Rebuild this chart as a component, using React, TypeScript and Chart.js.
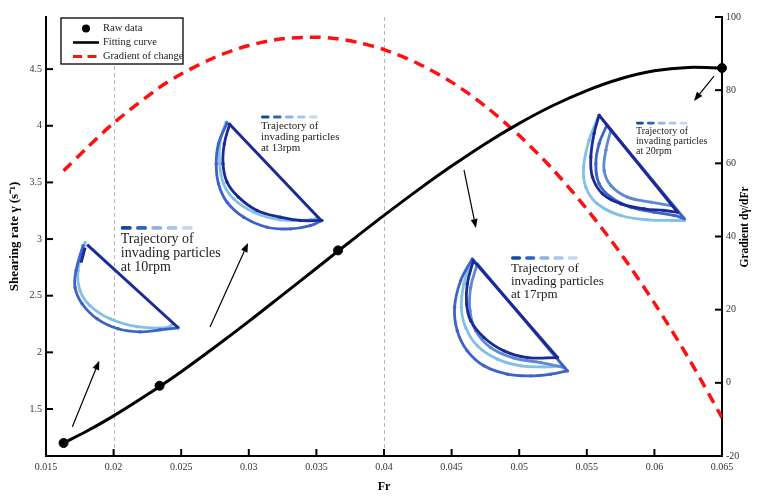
import React, { useEffect, useRef } from 'react';
import { Chart, registerables } from 'chart.js';
Chart.register(...registerables);

const FONT = '"Liberation Serif", "Times New Roman", serif';

// ---- axis ticks ----
const xTicks = [0.015, 0.02, 0.025, 0.03, 0.035, 0.04, 0.045, 0.05, 0.055, 0.06, 0.065];
const xTickLabels = ['0.015', '0.02', '0.025', '0.03', '0.035', '0.04', '0.045', '0.05', '0.055', '0.06', '0.065'];
const leftTicks = [1.5, 2, 2.5, 3, 3.5, 4, 4.5];
const leftTickLabels = ['1.5', '2', '2.5', '3', '3.5', '4', '4.5'];
const rightTicks = [-20, 0, 20, 40, 60, 80, 100];
const rightTickLabels = ['-20', '0', '20', '40', '60', '80', '100'];
const refLinesFr = [0.02, 0.04];

// ---- raw data ----
const rawFr = [0.0163, 0.0234, 0.0366, 0.065];
const rawGamma = [1.2, 1.705, 2.9, 4.51];

// ---- fitting curve & gradient ----
const curveFr = [0.0163, 0.018, 0.02, 0.0233, 0.025, 0.0275, 0.03, 0.0325, 0.035, 0.0365, 0.038, 0.04, 0.0425, 0.045, 0.0475, 0.05, 0.0525, 0.055, 0.0575, 0.06, 0.0625, 0.065];
const fitGamma = [1.2, 1.303, 1.439, 1.69, 1.829, 2.047, 2.273, 2.507, 2.742, 2.884, 3.024, 3.209, 3.432, 3.644, 3.842, 4.021, 4.179, 4.311, 4.415, 4.485, 4.515, 4.51];
const gradValue = [58.0, 64.1, 71.0, 80.5, 84.4, 89.0, 92.2, 94.05, 94.47, 94.05, 93.1, 91.1, 87.3, 82.2, 75.6, 67.6, 58.3, 47.5, 35.4, 21.8, 6.9, -9.5];

// ---- particle trajectories (Fr, shearing rate) ----
const traj10Chord = [[0.01804, 2.951], [0.02478, 2.217]];
const traj10Tick = [[0.01789, 2.925], [0.01759, 2.792]];
const traj10Outer = [[0.01774, 2.942], [0.01722, 2.721], [0.01715, 2.571], [0.01767, 2.429], [0.01878, 2.296], [0.02033, 2.208], [0.02196, 2.181], [0.02344, 2.199], [0.02478, 2.217]];
const traj10Inner = [[0.01789, 2.969], [0.01737, 2.721], [0.01752, 2.544], [0.01826, 2.412], [0.01974, 2.296], [0.02174, 2.226], [0.02396, 2.217], [0.02441, 2.252]];

const traj13Chord = [[0.02858, 4.013], [0.03535, 3.164]];
const traj13Outer = [[0.02839, 4.025], [0.02776, 3.842], [0.02759, 3.665], [0.02776, 3.488], [0.02839, 3.326], [0.02962, 3.193], [0.03135, 3.104], [0.03307, 3.09], [0.03456, 3.119], [0.03542, 3.164]];
const traj13Mid = [[0.02833, 4.034], [0.02789, 3.872], [0.02784, 3.665], [0.02813, 3.488], [0.02887, 3.356], [0.03036, 3.237], [0.03233, 3.17], [0.03456, 3.17], [0.03517, 3.188]];
const traj13Inner = [[0.02858, 4.013], [0.02819, 3.842], [0.02809, 3.665], [0.02839, 3.503], [0.02924, 3.37], [0.03061, 3.252], [0.03233, 3.193], [0.03381, 3.164], [0.03535, 3.164]];

const traj17Chord = [[0.04661, 2.81], [0.05283, 1.954]];
const traj17ChordOuter = [[0.0469, 2.781], [0.05357, 1.836]];
const traj17Outer = [[0.04653, 2.825], [0.04567, 2.633], [0.04522, 2.396], [0.04542, 2.19], [0.04616, 2.013], [0.04739, 1.881], [0.04913, 1.807], [0.05085, 1.792], [0.05233, 1.807], [0.05357, 1.836]];
const traj17Light = [[0.04641, 2.795], [0.04591, 2.604], [0.04572, 2.396], [0.04604, 2.219], [0.0469, 2.058], [0.04839, 1.94], [0.05011, 1.881], [0.05184, 1.872], [0.0532, 1.881]];
const traj17Mid = [[0.0469, 2.781], [0.04641, 2.573], [0.04636, 2.367], [0.04678, 2.19], [0.04789, 2.042], [0.04962, 1.949], [0.05159, 1.91], [0.05332, 1.865]];
const traj17Inner = [[0.04661, 2.81], [0.04616, 2.604], [0.04611, 2.427], [0.04641, 2.279], [0.04739, 2.131], [0.04887, 2.013], [0.05061, 1.954], [0.05283, 1.954]];

const traj20Chord = [[0.05591, 4.093], [0.06172, 3.237]];
const traj20ChordMid = [[0.05648, 4.004], [0.06221, 3.179]];
const traj20Light = [[0.05579, 4.064], [0.05517, 3.872], [0.05476, 3.635], [0.05493, 3.458], [0.05579, 3.311], [0.05752, 3.208], [0.0595, 3.17], [0.06122, 3.164], [0.06221, 3.164]];
const traj20Mid = [[0.05648, 4.004], [0.05591, 3.842], [0.05567, 3.665], [0.05591, 3.488], [0.05678, 3.37], [0.05826, 3.281], [0.05999, 3.237], [0.06147, 3.208], [0.06221, 3.179]];
const traj20Dark = [[0.05591, 4.093], [0.05554, 3.931], [0.0553, 3.724], [0.05542, 3.547], [0.05616, 3.4], [0.05752, 3.311], [0.05924, 3.267], [0.06073, 3.252], [0.06172, 3.237]];
const traj20Inner = [[0.05678, 3.96], [0.05641, 3.783], [0.05628, 3.606], [0.05678, 3.473], [0.05801, 3.37], [0.05974, 3.326], [0.06122, 3.296]];

// ---- annotations ----
const arrowTails = [[0.01695, 1.344], [0.02713, 2.224], [0.04592, 3.609], [0.06441, 4.439]];
const arrowHeads = [[0.01894, 1.926], [0.02994, 2.965], [0.0468, 3.097], [0.06293, 4.219]];
const insetRpm = ['10rpm', '13rpm', '17rpm', '20rpm'];
const insetFr = [0.02053, 0.0309, 0.04939, 0.05864];
const insetGamma = [3.098, 4.077, 2.833, 4.024];
const insetFontSize = [14, 11, 13, 10];

const DARK = '#1b2a98';
const MID = '#3f62c8';
const MID2 = '#5f88d4';
const LIGHT = '#82c0e4';
const dashColors = ['#174a9c', '#2f66bb', '#8fb3e3', '#a8c5eb', '#c4d8f1'];

const trajectoryList = [
  { data: traj10Chord, color: DARK, curved: false },
  { data: traj10Tick, color: DARK, curved: false },
  { data: traj13Chord, color: DARK, curved: false },
  { data: traj13Inner, color: DARK, curved: true },
  { data: traj17Chord, color: DARK, curved: false },
  { data: traj17Inner, color: DARK, curved: true },
  { data: traj20Chord, color: DARK, curved: false },
  { data: traj20Dark, color: DARK, curved: true },
  { data: traj10Outer, color: MID, curved: true },
  { data: traj13Outer, color: MID, curved: true },
  { data: traj17ChordOuter, color: MID, curved: false },
  { data: traj17Outer, color: MID, curved: true },
  { data: traj17Mid, color: MID2, curved: true },
  { data: traj20ChordMid, color: MID, curved: false },
  { data: traj20Mid, color: MID, curved: true },
  { data: traj20Inner, color: MID2, curved: true },
  { data: traj10Inner, color: LIGHT, curved: true },
  { data: traj13Mid, color: LIGHT, curved: true },
  { data: traj17Light, color: LIGHT, curved: true },
  { data: traj20Light, color: LIGHT, curved: true },
];

const toXY = (pairs: number[][]) => pairs.map(([x, y]) => ({ x, y }));
const labelFor = (vals: number[], labels: string[], v: number) => {
  const i = vals.findIndex((t) => Math.abs(t - v) < 1e-9);
  return i >= 0 ? labels[i] : '';
};

const overlayPlugin = {
  id: 'overlay',
  beforeDatasetsDraw(chart: any) {
    const { ctx, chartArea, scales } = chart;
    ctx.save();
    ctx.strokeStyle = '#b4b4b4';
    ctx.lineWidth = 1;
    ctx.setLineDash([4, 3]);
    for (const v of refLinesFr) {
      const x = Math.round(scales.x.getPixelForValue(v)) + 0.5;
      ctx.beginPath();
      ctx.moveTo(x, chartArea.top);
      ctx.lineTo(x, chartArea.bottom);
      ctx.stroke();
    }
    ctx.restore();
  },
  afterDatasetsDraw(chart: any) {
    const { ctx, scales } = chart;
    const sx = (v: number) => scales.x.getPixelForValue(v);
    const sy = (v: number) => scales.y.getPixelForValue(v);
    ctx.save();
    // arrows
    ctx.strokeStyle = '#000';
    ctx.fillStyle = '#000';
    ctx.lineWidth = 1.2;
    arrowTails.forEach((t, i) => {
      const x1 = sx(t[0]), y1 = sy(t[1]);
      const x2 = sx(arrowHeads[i][0]), y2 = sy(arrowHeads[i][1]);
      const a = Math.atan2(y2 - y1, x2 - x1);
      const hl = 9, hw = 3.5;
      const bx = x2 - hl * Math.cos(a), by = y2 - hl * Math.sin(a);
      ctx.beginPath();
      ctx.moveTo(x1, y1);
      ctx.lineTo(bx, by);
      ctx.stroke();
      ctx.beginPath();
      ctx.moveTo(x2, y2);
      ctx.lineTo(bx + hw * Math.sin(a), by - hw * Math.cos(a));
      ctx.lineTo(bx - hw * Math.sin(a), by + hw * Math.cos(a));
      ctx.closePath();
      ctx.fill();
    });
    // inset labels
    insetRpm.forEach((rpm, i) => {
      const size = insetFontSize[i];
      const x0 = sx(insetFr[i]);
      const y0 = sy(insetGamma[i]);
      const L = size * 5.45;
      const seg = L / 5;
      ctx.lineCap = 'round';
      ctx.lineWidth = size * 0.27;
      dashColors.forEach((c, k) => {
        ctx.strokeStyle = c;
        ctx.beginPath();
        ctx.moveTo(x0 + k * seg + ctx.lineWidth / 2, y0);
        ctx.lineTo(x0 + k * seg + seg * 0.72 - ctx.lineWidth / 2, y0);
        ctx.stroke();
      });
      ctx.fillStyle = '#222';
      ctx.font = `${size}px ${FONT}`;
      ctx.textBaseline = 'middle';
      ctx.textAlign = 'left';
      ['Trajectory of', 'invading particles', `at ${rpm}`].forEach((line, j) => {
        ctx.fillText(line, x0, y0 + size * 0.8 + j * size * 1.0);
      });
    });
    ctx.restore();
  },
  afterDraw(chart: any) {
    const { ctx, chartArea, scales } = chart;
    ctx.save();
    // inward ticks
    ctx.strokeStyle = '#000';
    ctx.lineWidth = 2;
    ctx.lineCap = 'butt';
    for (const v of xTicks) {
      const x = scales.x.getPixelForValue(v);
      ctx.beginPath();
      ctx.moveTo(x, chartArea.bottom);
      ctx.lineTo(x, chartArea.bottom - 7);
      ctx.stroke();
    }
    for (const v of leftTicks) {
      const y = scales.y.getPixelForValue(v);
      ctx.beginPath();
      ctx.moveTo(chartArea.left, y);
      ctx.lineTo(chartArea.left + 7, y);
      ctx.stroke();
    }
    for (const v of rightTicks) {
      const y = scales.y2.getPixelForValue(v);
      ctx.beginPath();
      ctx.moveTo(chartArea.right, y);
      ctx.lineTo(chartArea.right - 7, y);
      ctx.stroke();
    }
    // right axis title (reads bottom to top)
    ctx.save();
    ctx.translate(745, chartArea.top + 210);
    ctx.rotate(-Math.PI / 2);
    ctx.fillStyle = '#000';
    ctx.font = `bold 11.5px ${FONT}`;
    ctx.textAlign = 'center';
    ctx.textBaseline = 'middle';
    ctx.fillText('Gradient d\u03b3/dFr', 0, 0);
    ctx.restore();
    // legend box
    const ds = chart.data.datasets;
    const bx = chartArea.left + 15, by = chartArea.top + 1, bw = 122, bh = 46;
    ctx.fillStyle = '#fff';
    ctx.fillRect(bx, by, bw, bh);
    ctx.strokeStyle = '#000';
    ctx.lineWidth = 1.3;
    ctx.strokeRect(bx, by, bw, bh);
    const rows = [by + 10.5, by + 24.5, by + 38.5];
    const sx0 = bx + 12, sx1 = bx + 38, tx = bx + 42;
    ctx.fillStyle = '#000';
    ctx.beginPath();
    ctx.arc((sx0 + sx1) / 2, rows[0], 4, 0, Math.PI * 2);
    ctx.fill();
    ctx.lineWidth = 2.6;
    ctx.beginPath();
    ctx.moveTo(sx0, rows[1]);
    ctx.lineTo(sx1, rows[1]);
    ctx.stroke();
    ctx.strokeStyle = '#ff1010';
    ctx.lineWidth = 3;
    ctx.setLineDash([9, 5.5]);
    ctx.beginPath();
    ctx.moveTo(sx0, rows[2]);
    ctx.lineTo(sx1, rows[2]);
    ctx.stroke();
    ctx.setLineDash([]);
    ctx.fillStyle = '#222';
    ctx.font = `10.5px ${FONT}`;
    ctx.textAlign = 'left';
    ctx.textBaseline = 'middle';
    ctx.fillText(ds[0].label, tx, rows[0]);
    ctx.fillText(ds[1].label, tx, rows[1]);
    ctx.fillText(ds[2].label, tx, rows[2]);
    ctx.restore();
  },
};

export default function App() {
  const ref = useRef<HTMLCanvasElement>(null);
  useEffect(() => {
    if (!ref.current) return;
    const datasets: any[] = [
      {
        label: 'Raw data',
        data: rawFr.map((x, i) => ({ x, y: rawGamma[i] })),
        yAxisID: 'y',
        showLine: false,
        pointRadius: 4.5,
        pointBackgroundColor: '#000',
        pointBorderColor: '#000',
        borderColor: '#000',
        clip: false,
      },
      {
        label: 'Fitting curve',
        data: curveFr.map((x, i) => ({ x, y: fitGamma[i] })),
        yAxisID: 'y',
        borderColor: '#000',
        borderWidth: 3,
        pointRadius: 0,
        tension: 0.3,
      },
      {
        label: 'Gradient of change',
        data: curveFr.map((x, i) => ({ x, y: gradValue[i] })),
        yAxisID: 'y2',
        borderColor: '#ff1010',
        borderWidth: 3.5,
        borderDash: [11, 7],
        pointRadius: 0,
        tension: 0.3,
      },
      ...trajectoryList.map((t, i) => ({
        label: 'traj' + i,
        data: toXY(t.data),
        yAxisID: 'y',
        borderColor: t.color,
        borderWidth: t.curved ? 2.8 : 3,
        pointRadius: t.curved ? 1.7 : 0,
        pointBackgroundColor: t.color,
        pointBorderWidth: 0,
        tension: t.curved ? 0.4 : 0,
      })),
    ];
    const chart = new Chart(ref.current, {
      type: 'line',
      data: { datasets },
      plugins: [overlayPlugin],
      options: {
        responsive: false,
        animation: false,
        devicePixelRatio: 1,
        events: [],
        layout: { padding: { top: 17, left: 0, right: 0, bottom: 0 } },
        plugins: { legend: { display: false }, tooltip: { enabled: false } },
        scales: {
          x: {
            type: 'linear',
            position: 'bottom',
            min: 0.015,
            max: 0.065,
            grid: { display: false, drawTicks: false },
            border: { display: true, color: '#000', width: 2 },
            ticks: {
              font: { family: FONT, size: 10 },
              color: '#333',
              padding: 5,
              maxRotation: 0,
              autoSkip: false,
              callback: (v: any) => labelFor(xTicks, xTickLabels, Number(v)),
            },
            afterBuildTicks: (s: any) => { s.ticks = xTicks.map((v) => ({ value: v })); },
            afterFit: (s: any) => { s.height = 44; },
            title: { display: true, text: 'Fr', color: '#000', font: { family: FONT, size: 12, weight: 'bold' }, padding: { top: 0, bottom: 6 } },
          },
          y: {
            type: 'linear',
            position: 'left',
            min: 1.085,
            max: 4.96,
            grid: { display: false, drawTicks: false },
            border: { display: true, color: '#000', width: 2 },
            ticks: {
              font: { family: FONT, size: 10 },
              color: '#333',
              padding: 4,
              autoSkip: false,
              callback: (v: any) => labelFor(leftTicks, leftTickLabels, Number(v)),
            },
            afterBuildTicks: (s: any) => { s.ticks = leftTicks.map((v) => ({ value: v })); },
            afterFit: (s: any) => { s.width = 46; },
            title: { display: true, text: 'Shearing rate \u03b3 (s\u207b\u00b9)', color: '#000', font: { family: FONT, size: 13, weight: 'bold' }, padding: { top: 7, bottom: 0 } },
          },
          y2: {
            type: 'linear',
            position: 'right',
            min: -20,
            max: 100,
            grid: { display: false, drawTicks: false },
            border: { display: true, color: '#000', width: 2 },
            ticks: {
              font: { family: FONT, size: 10 },
              color: '#333',
              padding: 4,
              autoSkip: false,
              callback: (v: any) => labelFor(rightTicks, rightTickLabels, Number(v)),
            },
            afterBuildTicks: (s: any) => { s.ticks = rightTicks.map((v) => ({ value: v })); },
            afterFit: (s: any) => { s.width = 38; },
          },
        },
      } as any,
    });
    return () => chart.destroy();
  }, []);
  return (
    <div style={{ position: 'fixed', left: 0, top: 0, width: 760, height: 500, background: '#fff' }}>
      <canvas ref={ref} width={760} height={500} style={{ display: 'block', width: 760, height: 500 }} />
    </div>
  );
}
